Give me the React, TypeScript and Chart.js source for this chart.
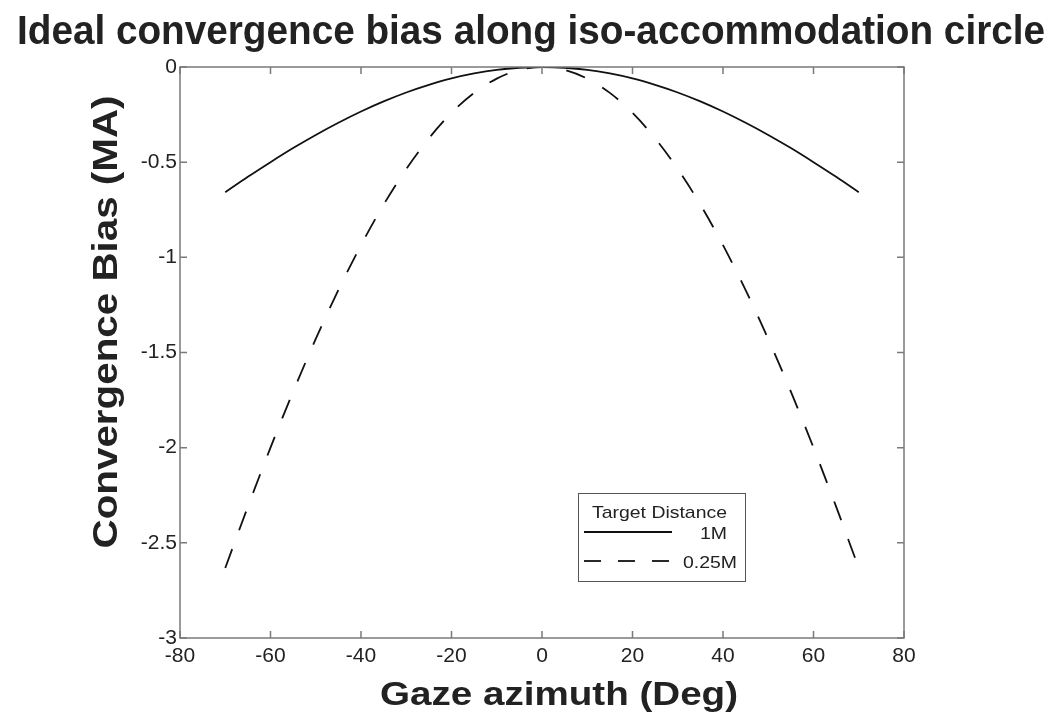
import React, { useEffect, useRef } from "react";
import { Chart, registerables } from "chart.js";

Chart.register(...registerables);

const chartTitle = "Ideal convergence bias along iso-accommodation circle";
const xAxisTitle = "Gaze azimuth (Deg)";
const yAxisTitle = "Convergence Bias (MA)";
const legendTitle = "Target Distance";

const azimuth = [
  -70, -65, -60, -55, -50, -45, -40, -35, -30, -25, -20, -15, -10, -5, 0,
  5, 10, 15, 20, 25, 30, 35, 40, 45, 50, 55, 60, 65, 70,
];
const bias1M = [
  -0.658, -0.577, -0.5, -0.426, -0.357, -0.293, -0.234, -0.181, -0.134, -0.094, -0.06, -0.034, -0.015, -0.004, 0,
  -0.004, -0.015, -0.034, -0.06, -0.094, -0.134, -0.181, -0.234, -0.293, -0.357, -0.426, -0.5, -0.577, -0.658,
];
const bias025M = [
  -2.632, -2.31, -2.0, -1.706, -1.429, -1.172, -0.936, -0.723, -0.536, -0.375, -0.241, -0.136, -0.061, -0.015, 0,
  -0.015, -0.061, -0.136, -0.241, -0.375, -0.536, -0.723, -0.936, -1.172, -1.429, -1.706, -2.0, -2.31, -2.632,
];
const seriesLabels = ["1M", "0.25M"];

const xTicks = [-80, -60, -40, -20, 0, 20, 40, 60, 80];
const xTickLabels = ["-80", "-60", "-40", "-20", "0", "20", "40", "60", "80"];
const yTicks = [0, -0.5, -1, -1.5, -2, -2.5, -3];
const yTickLabels = ["0", "-0.5", "-1", "-1.5", "-2", "-2.5", "-3"];

const FONT = '"Liberation Sans", Arial, Helvetica, sans-serif';

function fitText(
  ctx: CanvasRenderingContext2D,
  text: string,
  x: number,
  y: number,
  size: number,
  bold: boolean,
  width: number,
  align: "center" | "right" | "left",
  rotate = false
) {
  ctx.save();
  ctx.font = `${bold ? "bold " : ""}${size}px ${FONT}`;
  const w = ctx.measureText(text).width;
  const sx = width / w;
  ctx.translate(x, y);
  if (rotate) ctx.rotate(-Math.PI / 2);
  ctx.scale(sx, 1);
  ctx.textAlign = align;
  ctx.textBaseline = "alphabetic";
  ctx.fillStyle = "#222";
  ctx.fillText(text, 0, 0);
  ctx.restore();
}

const framePlugin = {
  id: "framePlugin",
  afterDraw(chart: any) {
    const ctx: CanvasRenderingContext2D = chart.ctx;
    const { left, right, top, bottom } = chart.chartArea;
    const xs = chart.scales.x;
    const ys = chart.scales.y;
    ctx.save();
    ctx.strokeStyle = "#7a7a7a";
    ctx.lineWidth = 1.5;
    ctx.strokeRect(left, top, right - left, bottom - top);
    const tl = 7;
    ctx.beginPath();
    xTicks.forEach((v) => {
      const px = xs.getPixelForValue(v);
      ctx.moveTo(px, bottom);
      ctx.lineTo(px, bottom - tl);
      ctx.moveTo(px, top);
      ctx.lineTo(px, top + tl);
    });
    yTicks.forEach((v) => {
      const py = ys.getPixelForValue(v);
      ctx.moveTo(left, py);
      ctx.lineTo(left + tl, py);
      ctx.moveTo(right, py);
      ctx.lineTo(right - tl, py);
    });
    ctx.stroke();
    ctx.restore();

    // titles
    fitText(ctx, chartTitle, 531, 44, 40, true, 1028, "center");
    fitText(ctx, xAxisTitle, 559, 705, 33, true, 358, "center");
    fitText(ctx, yAxisTitle, 117, 322, 35, true, 453, "center", true);

    // legend
    const bx = 578, by = 493, bw = 167, bh = 88;
    ctx.save();
    ctx.fillStyle = "#fff";
    ctx.fillRect(bx, by, bw, bh);
    ctx.strokeStyle = "#555";
    ctx.lineWidth = 1;
    ctx.strokeRect(bx + 0.5, by + 0.5, bw, bh);
    ctx.restore();
    fitText(ctx, legendTitle, 659.5, 518, 17, false, 135, "center");
    const rows = [
      { y: 532, ty: 539, right: 727, w: 27 },
      { y: 561, ty: 568, right: 737, w: 54 },
    ];
    chart.data.datasets.forEach((ds: any, i: number) => {
      const r = rows[i];
      ctx.save();
      ctx.strokeStyle = ds.borderColor;
      ctx.lineWidth = ds.borderWidth;
      ctx.setLineDash(ds.borderDash ? [17, 17] : []);
      ctx.beginPath();
      ctx.moveTo(584, r.y);
      ctx.lineTo(672, r.y);
      ctx.stroke();
      ctx.restore();
      fitText(ctx, ds.label, r.right, r.ty, 17, false, r.w, "right");
    });
  },
};

export default function App() {
  const ref = useRef<HTMLCanvasElement | null>(null);
  useEffect(() => {
    document.body.style.margin = "0";
    const canvas = ref.current;
    if (!canvas) return;
    const chart = new Chart(canvas, {
      type: "line",
      data: {
        datasets: [
          {
            label: seriesLabels[0],
            data: azimuth.map((x, i) => ({ x, y: bias1M[i] })),
            borderColor: "#111",
            borderWidth: 1.8,
            pointRadius: 0,
            cubicInterpolationMode: "monotone",
            fill: false,
          },
          {
            label: seriesLabels[1],
            data: azimuth.map((x, i) => ({ x, y: bias025M[i] })),
            borderColor: "#111",
            borderWidth: 1.8,
            borderDash: [20, 20],
            pointRadius: 0,
            cubicInterpolationMode: "monotone",
            fill: false,
          },
        ],
      },
      options: {
        responsive: false,
        animation: false,
        layout: { padding: { top: 67, right: 146, left: 0, bottom: 0 } },
        plugins: {
          legend: { display: false },
          title: { display: false },
          tooltip: { enabled: false },
        },
        scales: {
          x: {
            type: "linear",
            min: -80,
            max: 80,
            afterBuildTicks: (s: any) => {
              s.ticks = xTicks.map((v) => ({ value: v }));
            },
            afterFit: (s: any) => {
              s.height = 84;
            },
            grid: { display: false, drawTicks: false },
            border: { display: false },
            ticks: {
              autoSkip: false,
              maxRotation: 0,
              padding: 6,
              color: "#222",
              font: { size: 21, family: FONT },
              callback: (_v: any, i: number) => xTickLabels[i],
            },
          },
          y: {
            type: "linear",
            min: -3,
            max: 0,
            afterBuildTicks: (s: any) => {
              s.ticks = yTicks.map((v) => ({ value: v }));
            },
            afterFit: (s: any) => {
              s.width = 180;
            },
            grid: { display: false, drawTicks: false },
            border: { display: false },
            ticks: {
              autoSkip: false,
              padding: 3,
              color: "#222",
              font: { size: 21, family: FONT },
              callback: (_v: any, i: number) => yTickLabels[i],
            },
          },
        },
      },
      plugins: [framePlugin],
    } as any);
    return () => chart.destroy();
  }, []);
  return (
    <div style={{ width: 1050, height: 722, background: "#fff" }}>
      <canvas ref={ref} width={1050} height={722} style={{ display: "block" }} />
    </div>
  );
}
